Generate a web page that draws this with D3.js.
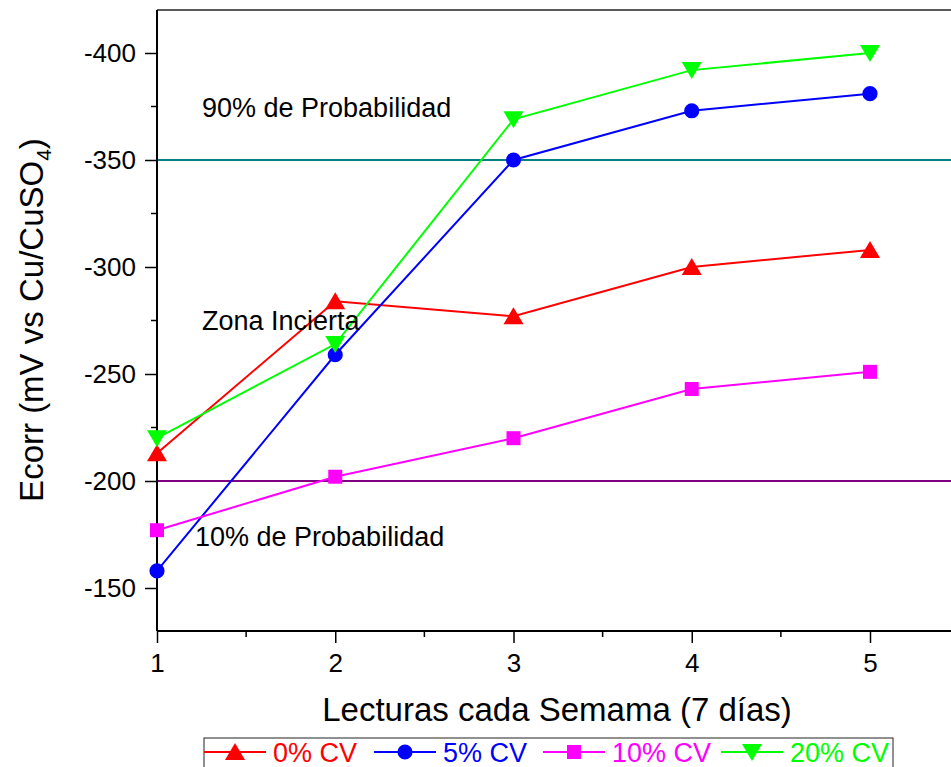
<!DOCTYPE html>
<html><head><meta charset="utf-8">
<script src="https://cdn.jsdelivr.net/npm/d3@7"></script>
<style>body{margin:0;background:#fff}svg{display:block;font-family:Arial,"Liberation Sans",sans-serif}</style>
</head><body><svg id="c" width="951" height="767"></svg>
<script>
const weeks = [1, 2, 3, 4, 5];
const cv0 = [-213, -284, -277, -300, -308];
const cv5 = [-158, -259, -350, -373, -381];
const cv10 = [-177, -202, -220, -243, -251];
const cv20 = [-220, -264, -369, -392, -400];
const seriesNames = ["0% CV", "5% CV", "10% CV", "20% CV"];
const seriesColors = ["#ff0000", "#0000ff", "#ff00ff", "#00ff00"];
const seriesSymbols = ["triUp", "circle", "square", "triDown"];
const refValues = [-350, -200];
const refColors = ["#008080", "#800080"];
const xTicks = [1, 2, 3, 4, 5];
const yTicks = [-400, -350, -300, -250, -200, -150];
const notes = ["90% de Probabilidad", "Zona Incierta", "10% de Probabilidad"];

const svg = d3.select("#c");
const FF = "Arial, 'Liberation Sans', sans-serif";
const L = 157, T = 10, R = 951, B = 631;
const x = d3.scaleLinear().domain([1, 5]).range([L, 870]);
const y = d3.scaleLinear().domain([-400, -150]).range([53, 588]);

// frame top
svg.append("line").attr("x1", L).attr("x2", R).attr("y1", T).attr("y2", T).attr("stroke", "#222").attr("stroke-width", 1.5);

// reference lines
refValues.forEach((v, i) => {
  svg.append("line").attr("x1", L).attr("x2", R).attr("y1", y(v)).attr("y2", y(v))
    .attr("stroke", refColors[i]).attr("stroke-width", 2);
});

// axes
const xMinor = d3.range(1.5, 5.5, 1);
const yMinor = d3.range(-375, -125, 50);
const xAx = svg.append("g").attr("transform", `translate(0,${B})`);
xAx.call(d3.axisBottom(x).tickValues(xTicks).tickFormat(d3.format("d")).tickSize(12).tickPadding(5));
xAx.attr("font-size", 26).attr("font-family", FF);
xAx.select(".domain").remove();
xAx.append("line").attr("x1", L).attr("x2", R).attr("stroke", "#000").attr("stroke-width", 2);
xAx.selectAll(".minor").data(xMinor).join("line").attr("class", "minor").attr("x1", d => x(d)).attr("x2", d => x(d)).attr("y1", 0).attr("y2", 6).attr("stroke", "#000").attr("stroke-width", 1.5);
xAx.selectAll(".tick line").attr("stroke-width", 1.5);
xAx.selectAll(".tick text").attr("fill", "#000").attr("dy", null).attr("y", 41);

const yAx = svg.append("g").attr("transform", `translate(${L},0)`);
yAx.call(d3.axisLeft(y).tickValues(yTicks).tickSize(12).tickPadding(9));
yAx.attr("font-size", 26).attr("font-family", FF);
yAx.select(".domain").remove();
yAx.append("line").attr("y1", T).attr("y2", B).attr("stroke", "#000").attr("stroke-width", 2);
yAx.selectAll(".minor").data(yMinor).join("line").attr("class", "minor").attr("y1", d => y(d)).attr("y2", d => y(d)).attr("x1", 0).attr("x2", -6).attr("stroke", "#000").attr("stroke-width", 1.5);
yAx.selectAll(".tick line").attr("stroke-width", 1.5);
yAx.selectAll(".tick text").attr("fill", "#000").text(d => "-" + Math.abs(d));

// series
const data = [cv0, cv5, cv10, cv20];
const line = d3.line().x((d, i) => x(weeks[i])).y(d => y(d));
function symbolPath(kind) {
  if (kind === "triUp") return "M0,-9L10,8L-10,8Z";
  if (kind === "triDown") return "M0,9L10,-8L-10,-8Z";
  if (kind === "square") return "M-7,-7H7V7H-7Z";
  return d3.symbol(d3.symbolCircle, 180)();
}
data.forEach((vals, s) => {
  svg.append("path").datum(vals).attr("d", line).attr("fill", "none")
    .attr("stroke", seriesColors[s]).attr("stroke-width", 2);
});
data.forEach((vals, s) => {
  svg.selectAll(null).data(vals).join("path")
    .attr("transform", (d, i) => `translate(${x(weeks[i])},${y(d)})`)
    .attr("d", symbolPath(seriesSymbols[s])).attr("fill", seriesColors[s]);
});

// annotations
const notePos = [[202, 117], [202, 330], [195, 546]];
notes.forEach((t, i) => {
  svg.append("text").attr("x", notePos[i][0]).attr("y", notePos[i][1]).attr("font-size", 27).attr("fill", "#000").text(t);
});

// axis titles
svg.append("text").attr("x", 557).attr("y", 721).attr("text-anchor", "middle").attr("font-size", 33).text("Lecturas cada Semama (7 días)");
const yt = svg.append("text").attr("transform", "translate(43,320) rotate(-90)").attr("text-anchor", "middle").attr("font-size", 33);
yt.append("tspan").text("Ecorr (mV vs Cu/CuSO");
yt.append("tspan").attr("font-size", 21).attr("dy", 8).text("4");
yt.append("tspan").attr("dy", -8).text(")");

// legend
const lg = svg.append("g");
lg.append("rect").attr("x", 204).attr("y", 738).attr("width", 689).attr("height", 40).attr("fill", "#fff").attr("stroke", "#222").attr("stroke-width", 1);
const legX = [204, 374, 543, 721];
seriesNames.forEach((n, i) => {
  const g = lg.append("g").attr("transform", `translate(${legX[i]},752)`);
  g.append("line").attr("x1", 0).attr("x2", 62).attr("stroke", seriesColors[i]).attr("stroke-width", 2);
  g.append("path").attr("transform", "translate(31,0)").attr("d", symbolPath(seriesSymbols[i])).attr("fill", seriesColors[i]);
  g.append("text").attr("x", 69).attr("y", 10).attr("font-size", 27).attr("fill", seriesColors[i]).text(n);
});
</script></body></html>
